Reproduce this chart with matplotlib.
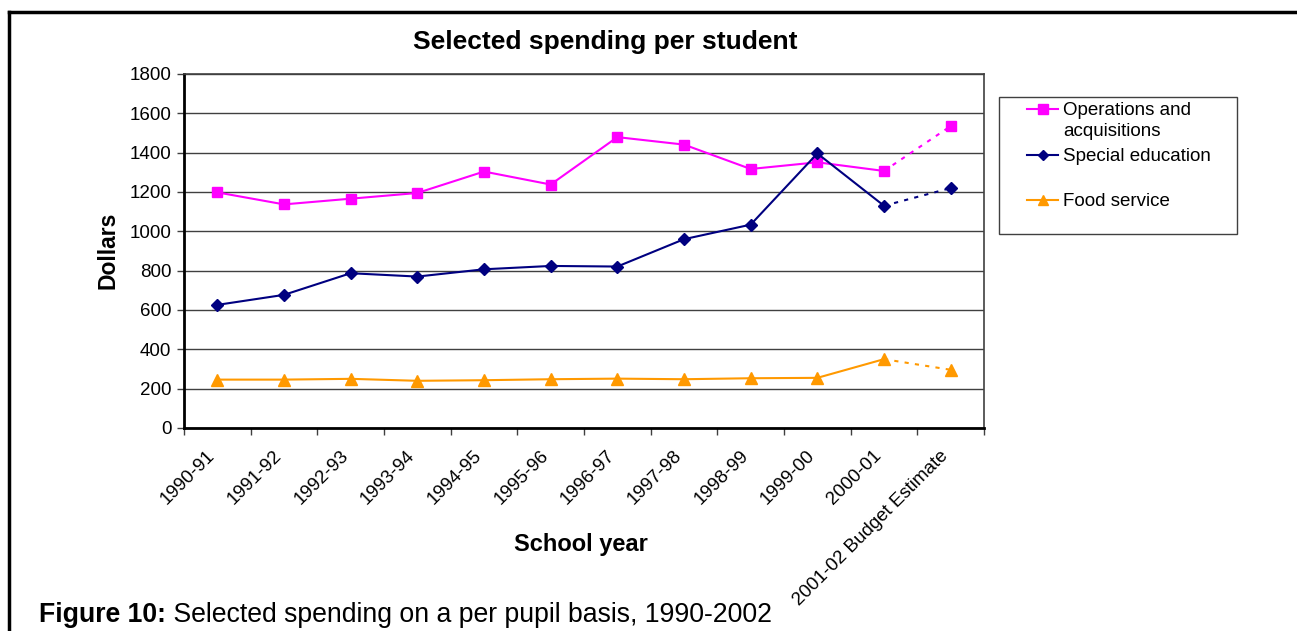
import matplotlib
matplotlib.use('Agg')
import matplotlib.pyplot as plt
from matplotlib.transforms import ScaledTranslation
from matplotlib.patches import Rectangle
from matplotlib.lines import Line2D

plt.rcParams['font.family'] = ['Liberation Sans', 'DejaVu Sans']

# data
years = ['1990-91', '1991-92', '1992-93', '1993-94', '1994-95', '1995-96',
         '1996-97', '1997-98', '1998-99', '1999-00', '2000-01',
         '2001-02 Budget Estimate']
operations = [1198, 1137, 1166, 1195, 1304, 1238, 1479, 1441, 1317, 1351, 1307, 1535]
special_ed = [626, 677, 787, 770, 807, 824, 821, 960, 1034, 1396, 1130, 1220]
food = [246, 246, 250, 240, 243, 248, 251, 248, 253, 255, 350, 296]

series = [
    ('Operations and\nacquisitions', operations, '#FF00FF', 's', 7.5),
    ('Special education', special_ed, '#000080', 'D', 6),
    ('Food service', food, '#FF9900', '^', 8),
]

W, H = 1297, 631
fig = plt.figure(figsize=(W / 100, H / 100), dpi=100)

# frame lines of the original document
fig.add_artist(Line2D([9 / W, 1], [1 - 12 / H, 1 - 12 / H], color='black', lw=2.5,
                      transform=fig.transFigure))
fig.add_artist(Line2D([9 / W, 9 / W], [0, 1 - 12 / H], color='black', lw=2.5,
                      transform=fig.transFigure))

ax = fig.add_axes([184 / W, (H - 428) / H, 800 / W, 354 / H])
x = list(range(len(years)))
for label, vals, color, marker, ms in series:
    ax.plot(x[:-1], vals[:-1], color=color, lw=1.5, marker=marker, ms=ms,
            markeredgecolor=color, zorder=3)
    ax.plot(x[-2:], vals[-2:], color=color, lw=1.5, ls=(0, (2, 3)), zorder=2)
    ax.plot(x[-1:], vals[-1:], color=color, marker=marker, ms=ms, ls='none', zorder=3)

ax.set_xlim(-0.5, len(years) - 0.5)
ax.set_ylim(0, 1800)
ax.set_yticks(range(0, 1801, 200))
ax.yaxis.grid(True, color='#404040', lw=1)
ax.set_axisbelow(True)

ax.set_xticks(x)
ax.set_xticks([i - 0.5 for i in range(len(years) + 1)], minor=True)
ax.set_xticklabels(years, rotation=45, ha='right', va='center',
                   rotation_mode='anchor', fontsize=13.5)
ax.tick_params(axis='x', which='major', length=0, pad=18)
ax.tick_params(axis='x', which='minor', length=5, width=1, color='#404040')
ax.tick_params(axis='y', length=5, width=1, color='#404040', pad=4, labelsize=13.5)
shift = ScaledTranslation(-0.05, 0, fig.dpi_scale_trans)
for lbl in ax.get_xticklabels():
    lbl.set_transform(lbl.get_transform() + shift)

for side in ['left', 'bottom']:
    ax.spines[side].set_linewidth(2)
    ax.spines[side].set_color('black')
for side in ['top', 'right']:
    ax.spines[side].set_linewidth(1.2)
    ax.spines[side].set_color('#404040')

fig.text(605 / W, 1 - 42 / H, 'Selected spending per student', ha='center', va='center',
         fontsize=19, fontweight='bold')
fig.text(581 / W, 1 - 545 / H, 'School year', ha='center', va='center',
         fontsize=17, fontweight='bold')
fig.text(108 / W, 1 - 250 / H, 'Dollars', ha='center', va='center', rotation=90,
         fontsize=16.5, fontweight='bold')

# legend drawn in its own pixel-based box
lax = fig.add_axes([998 / W, (H - 234) / H, 239 / W, 138 / H])
lax.set_xlim(0, 239)
lax.set_ylim(138, 0)
lax.axis('off')
lax.add_patch(Rectangle((0.5, 0.5), 238, 137, fill=False, edgecolor='#404040', lw=1,
                        clip_on=False))
rows = [13, 59, 104]
for (label, vals, color, marker, ms), ry in zip(series, rows):
    lax.plot([29, 60], [ry, ry], color=color, lw=1.5)
    lax.plot([45], [ry], color=color, marker=marker, ms=ms - 1)
    lax.text(65, ry - 7, label, ha='left', va='top', fontsize=13.5, linespacing=1.3)

t1 = fig.text(39 / W, 1 - 615 / H, 'Figure 10:', fontsize=19.2, fontweight='bold', va='center')
fig.canvas.draw()
bb = t1.get_window_extent()
fig.text(bb.x1 / W, 1 - 615 / H, ' Selected spending on a per pupil basis, 1990-2002',
         fontsize=19.2, va='center')

fig.savefig('out.png', dpi=100)
